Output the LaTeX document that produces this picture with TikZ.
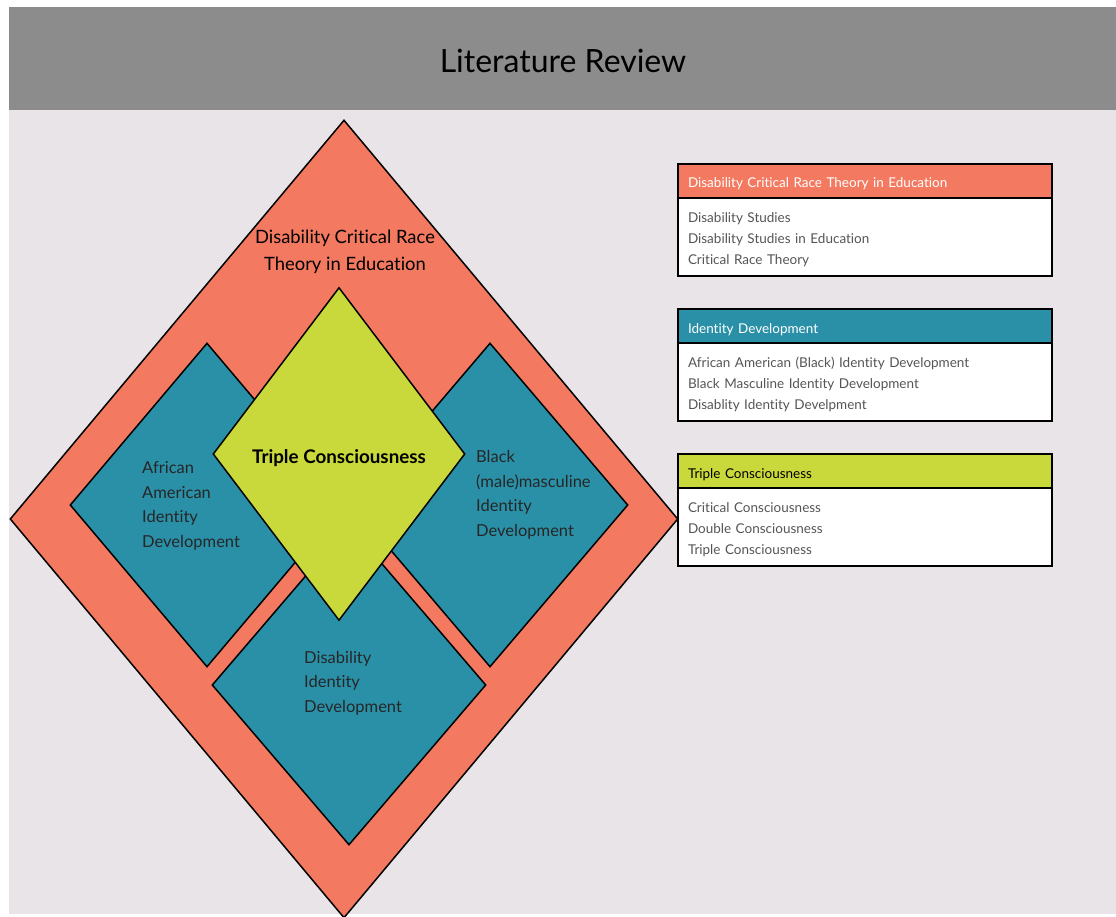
\documentclass[tikz,border=0pt]{standalone}
\usepackage{fontspec}
\setmainfont{Lato}[Ligatures=NoCommon]
\usepackage{tikz}
\usetikzlibrary{shapes.geometric,positioning}
\definecolor{bandgray}{HTML}{8C8C8C}
\definecolor{pagegray}{HTML}{E8E4E7}
\definecolor{dcrtred}{HTML}{F37A60}
\definecolor{idblue}{HTML}{2A90A8}
\definecolor{tcgreen}{HTML}{C9D93B}
\definecolor{listgray}{HTML}{555555}
\tikzset{
  kite/.style={diamond, draw=black, line width=1.5pt, inner sep=0pt},
  head/.style={draw=black, line width=1.5pt, outer sep=0pt, minimum width=374pt, minimum height=34pt,
    text width=354pt, text height=17pt, text depth=3pt, inner xsep=10pt, align=left,
    font=\fontsize{13.5}{16}\selectfont},
  body/.style={draw=black, line width=1.5pt, outer sep=0pt, fill=white, minimum width=374pt, minimum height=78pt,
    text width=354pt, text height=16pt, inner xsep=10pt, align=left, text=listgray,
    font=\fontsize{13.5}{21}\selectfont},
  tag/.style={inner sep=0pt, align=left, text=black!85, font=\fontsize{16.5}{24.5}\selectfont}
}
\begin{document}
\begin{tikzpicture}[x=1pt,y=-1pt]
\useasboundingbox (0,0) rectangle (1116,917);
\fill[white] (0,0) rectangle (1116,917);
\fill[pagegray] (9,110) rectangle (1116,914);
\fill[bandgray] (9,7) rectangle (1116,110);
\node (title) at (563,61) {\fontsize{32}{36}\selectfont Literature Review};

\node[kite, fill=dcrtred, minimum width=668pt, minimum height=798pt] (dcrt) at (344,519) {};
\node[kite, fill=idblue, minimum width=274pt, minimum height=320pt] (dis) at (349,685) {};
\node[kite, fill=idblue, minimum width=274pt, minimum height=324pt] (aa) at (207,505) {};
\node[kite, fill=idblue, minimum width=276pt, minimum height=324pt] (bm) at (490,505) {};
\node[kite, fill=tcgreen, minimum width=252pt, minimum height=333pt] (tc) at (339,454) {};

\node[inner sep=0pt, align=center, font=\fontsize{18.4}{27}\selectfont] (dcrtlabel) at (345,252)
  {Disability Critical Race\\Theory in Education};
\node[inner sep=0pt, font=\fontsize{18.8}{22}\selectfont\bfseries] (tclabel) at (339,458) {Triple Consciousness};
\node[tag, anchor=west] (aalabel) at (142,506) {African\\American\\Identity\\Development};
\node[tag, anchor=west] (bmlabel) at (476,495) {Black\\(male)masculine\\Identity\\Development};
\node[tag, anchor=west] (dislabel) at (304,683) {Disability\\Identity\\Development};

\node[head, fill=dcrtred, text=white, anchor=north west] (h1) at (678,164) {Disability Critical Race Theory in Education};
\node[body, below=0pt of h1] (b1) {Disability Studies\\Disability Studies in Education\\Critical Race Theory};
\node[head, fill=idblue, text=white, below=33pt of b1] (h2) {Identity Development};
\node[body, below=0pt of h2] (b2) {African American (Black) Identity Development\\Black Masculine Identity Development\\Disablity Identity Develpment};
\node[head, fill=tcgreen, text=black, below=33pt of b2] (h3) {Triple Consciousness};
\node[body, below=0pt of h3] (b3) {Critical Consciousness\\Double Consciousness\\Triple Consciousness};
\end{tikzpicture}
\end{document}
